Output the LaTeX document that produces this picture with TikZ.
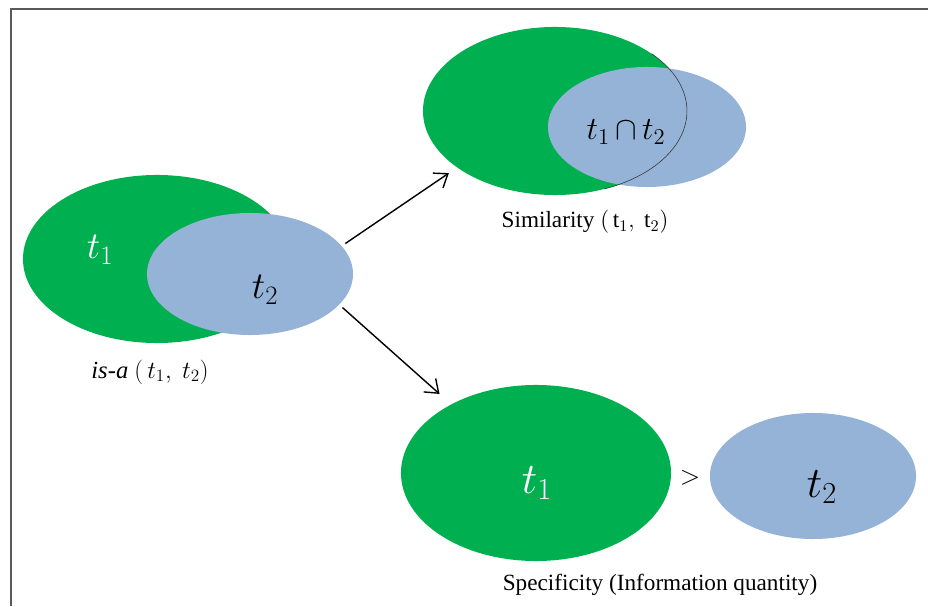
\RequirePackage{fix-cm}
\documentclass[tikz,border=0pt]{standalone}
\usepackage{fontspec}
\setmainfont{Liberation Serif}
\usetikzlibrary{arrows.meta,calc,shapes.geometric}
\definecolor{SetGreen}{HTML}{00B050}
\definecolor{SetBlue}{HTML}{95B3D7}
\definecolor{FrameGray}{HTML}{5A5A5A}

\begin{document}
\begin{tikzpicture}[
        x=0.025cm, y=0.025cm,
        set/.style={ellipse, inner sep=0pt},
        grn/.style={set, fill=SetGreen},
        blu/.style={set, fill=SetBlue},
        big/.style={font=\fontsize{27}{30}\selectfont, inner sep=0pt},
        bigger/.style={font=\fontsize{31}{34}\selectfont, inner sep=0pt},
        lbl/.style={font=\fontsize{16.5}{19}\selectfont},
        arr/.style={-{Straight Barb[length=3mm, width=4.5mm]}, line width=1pt, black}
    ]
    \useasboundingbox (0,0) rectangle (928,606);
    \draw[FrameGray, line width=1.2pt] (11,0) -- (11,597) -- (928,597);

    % is-a
    \node[grn, minimum width=6.7cm, minimum height=4.2cm] (isag) at (157,347) {};
    \node[blu, minimum width=5.15cm, minimum height=3.05cm] (isab) at (250,332) {};
    \node[big, text=white] (isat1) at (100,356) {$t_1$};
    \node[big] (isat2) at (265,316) {$t_2$};
    \node[lbl, font=\fontsize{17.5}{20}\selectfont] (isalbl) at (150,234) {\textit{is-a} $(\,t_1,\ t_2)$};

    % similarity
    \node[grn, minimum width=6.6cm, minimum height=4.2cm] (simg) at (555,495) {};
    \node[blu, minimum width=4.95cm, minimum height=3cm] (simb) at (647,479) {};
    \draw[black!80, line width=0.4pt] ($(simg.center)+(43:132 and 84)$)
        arc[start angle=43, end angle=-68, x radius=132, y radius=84];
    \node[big, font=\fontsize{23}{26}\selectfont] (simcap) at (626,474) {$t_1\,{\cap}\,t_2$};
    \node[lbl] (simlbl) at (585,384) {Similarity $(\,\mathrm{t}_1,\ \mathrm{t}_2)$};

    % specificity
    \node[grn, minimum width=6.75cm, minimum height=4.4cm] (specg) at (536,133) {};
    \node[blu, minimum width=5.15cm, minimum height=3.15cm] (specb) at (813,130) {};
    \node[bigger, text=white] (spect1) at (537,123) {$t_1$};
    \node[bigger] (spect2) at (822,119) {$t_2$};
    \node[lbl, font=\fontsize{19}{22}\selectfont] (gt) at (690,128) {$>$};
    \node[lbl] (speclbl) at (660,21) {Specificity (Information quantity)};

    \draw[arr, shorten <=3pt, shorten >=7pt] (isab.17) -- (simg.210);
    \draw[arr, shorten <=3pt, shorten >=11pt] (isab.-19) -- (specg.141);
\end{tikzpicture}
\end{document}
